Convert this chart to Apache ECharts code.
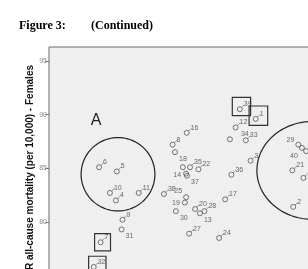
<!DOCTYPE html>
<html>
<head>
<meta charset="utf-8">
<script src="https://cdn.jsdelivr.net/npm/echarts@6/dist/echarts.min.js"></script>
<style>
html, body { margin: 0; padding: 0; background: #fff; }
#chart { width: 308px; height: 269px; }
</style>
</head>
<body>
<div id="chart"></div>
<script>
// case ids and their values
const pointIds = ['1', '2', '3', '4', '5', '6', '7', '8', '9', '10',
  '11', '12', '13', '14', '15', '16', '17', '18', '19', '20',
  '21', '22', '23', '24', '25', '26', '27', '28', '29', '30',
  '31', '32', '33', '34', '35', '36', '37', '38', '39', '40']
const xValues = [68.9, 81.4, 67.2, 22.3, 22.6, 16.7, 17.2, 41.2, 24.5, 20.3,
  29.9, 62.2, 50.3, 45.7, 84.8, 45.9, 58.7, 42.0, 45.3, 48.7,
  81.1, 49.8, 44.6, 56.7, 45.7, 85.7, 46.7, 51.8, 83.1, 42.3,
  24.2, 14.9, 65.6, 60.3, 47.0, 60.8, 46.0, 38.3, 63.6, 84.3]
const yValues = [89.6, 81.4, 85.7, 82.0, 84.7, 85.1, 78.1, 87.2, 80.2, 82.7,
  82.7, 88.8, 80.8, 84.5, 84.1, 88.3, 82.1, 86.5, 81.8, 81.2,
  84.8, 84.9, 85.1, 78.5, 82.3, 86.6, 78.9, 81.0, 87.2, 81.0,
  79.3, 75.8, 87.6, 87.7, 85.1, 84.4, 84.3, 82.6, 90.5, 86.9]
const yTickValues = [80, 85, 90, 95]

// where a case label sits when it is not up-right of its marker
const labelPlacement = {
  '18': ['right', [0, 7]], '30': ['right', [0, 7]], '31': ['right', [0, 7]],
  '13': ['right', [0, 7]], '37': ['right', [0, 6]], '34': ['right', [7, -5]],
  '14': ['left', [-1, 1]], '19': ['left', [-1, 0]], '25': ['left', [0, -6]],
  '29': ['left', [0, -5]], '40': ['left', [0, 8]],
  '23': null, '26': null
}

// hand-drawn annotations, in data units: [x0, yTop, x1, yBottom]
const boxes = [[15.2, 78.9, 20.5, 77.3], [13.2, 76.8, 19.0, 75.1],
  [61.1, 91.6, 67.2, 89.9], [66.7, 90.8, 72.9, 89.0]]
// [cx, cy, rx, ry]
const ellipses = [[23.0, 84.44, 12.3, 3.42], [88.0, 84.8, 18.7, 4.57]]

const chart = echarts.init(document.getElementById('chart'))
const labelFont = 'Liberation Sans, Arial, sans-serif'
const titleFont = 'Liberation Serif, Times New Roman, serif'

const points = pointIds.map((id, i) => {
  const item = { name: id, value: [xValues[i], yValues[i]] }
  if (id in labelPlacement) {
    const p = labelPlacement[id]
    item.label = p ? { position: p[0], offset: p[1] } : { show: false }
  }
  return item
})
const tails = points.filter(p => !(p.name in labelPlacement))

const option = {
  animation: false,
  title: [
    { text: 'Figure 3:', left: 19, top: 20, padding: 0,
      textStyle: { fontFamily: titleFont, fontSize: 12, fontWeight: 'bold', color: '#000' } },
    { text: '(Continued)', left: 91, top: 20, padding: 0,
      textStyle: { fontFamily: titleFont, fontSize: 12, fontWeight: 'bold', color: '#000' } }
  ],
  grid: {
    show: true,
    left: 49, top: 47, width: 300, height: 389.5,
    outerBoundsMode: 'none',
    containLabel: false,
    backgroundColor: '#efefef',
    borderColor: '#6a6a6a',
    borderWidth: 1
  },
  xAxis: {
    type: 'value', min: 0, max: 100, show: false
  },
  yAxis: {
    type: 'value', min: 60, max: 96.3, interval: 5,
    axisLine: { show: false },
    splitLine: { show: false },
    axisTick: { show: true, length: 4, customValues: yTickValues, lineStyle: { color: '#777' } },
    axisLabel: {
      customValues: yTickValues, margin: 2, fontSize: 7, color: '#8a8a8a', fontFamily: labelFont,
      formatter: v => (v % 5 === 0 ? String(v) : '')
    }
  },
  series: [
    {
      type: 'scatter',
      data: points,
      symbol: 'circle',
      symbolSize: 5,
      itemStyle: { color: 'rgba(0,0,0,0)', borderColor: '#555', borderWidth: 1 },
      label: {
        show: true, position: 'right', distance: 1, offset: [0, -5],
        formatter: p => p.name,
        fontSize: 7, color: '#444', fontFamily: labelFont
      },
      emphasis: { disabled: true }
    },
    {
      type: 'scatter',
      data: tails,
      symbol: 'path://M0 10 L10 0',
      symbolSize: 3,
      symbolOffset: [3.2, -3.2],
      itemStyle: { color: 'none', borderColor: '#666', borderWidth: 0.8 },
      silent: true
    }
  ]
}

chart.setOption(option)

const toPx = (x, y) => chart.convertToPixel({ gridIndex: 0 }, [x, y])
const graphics = []

boxes.forEach(b => {
  const p0 = toPx(b[0], b[1])
  const p1 = toPx(b[2], b[3])
  graphics.push({
    type: 'rect',
    shape: { x: p0[0], y: p0[1], width: p1[0] - p0[0], height: p1[1] - p0[1] },
    style: { fill: 'none', stroke: '#333', lineWidth: 1.2 },
    z: 10
  })
})

ellipses.forEach(e => {
  const c = toPx(e[0], e[1])
  const rx = toPx(e[0] + e[2], e[1])[0] - c[0]
  const ry = c[1] - toPx(e[0], e[1] + e[3])[1]
  const pts = []
  for (let k = 0; k < 96; k++) {
    const t = k / 96 * Math.PI * 2
    pts.push([c[0] + rx * Math.cos(t), c[1] + ry * Math.sin(t)])
  }
  graphics.push({
    type: 'polygon',
    shape: { points: pts },
    style: { fill: 'none', stroke: '#222', lineWidth: 1.2 },
    z: 10
  })
})

const aPos = toPx(15.7, 89.4)
graphics.push({
  type: 'text', x: aPos[0], y: aPos[1], z: 10,
  style: { text: 'A', fontSize: 16, fontFamily: labelFont, fill: '#222', align: 'center', verticalAlign: 'middle' }
})

graphics.push({
  type: 'text', x: 30, y: 65, rotation: Math.PI / 2, z: 10,
  style: {
    text: 'ASR all-cause mortality (per 10,000) - Females',
    fontSize: 10, fontWeight: 'bold', fontFamily: labelFont, fill: '#111',
    align: 'right', verticalAlign: 'middle'
  }
})

chart.setOption({ graphic: graphics })
</script>
</body>
</html>
